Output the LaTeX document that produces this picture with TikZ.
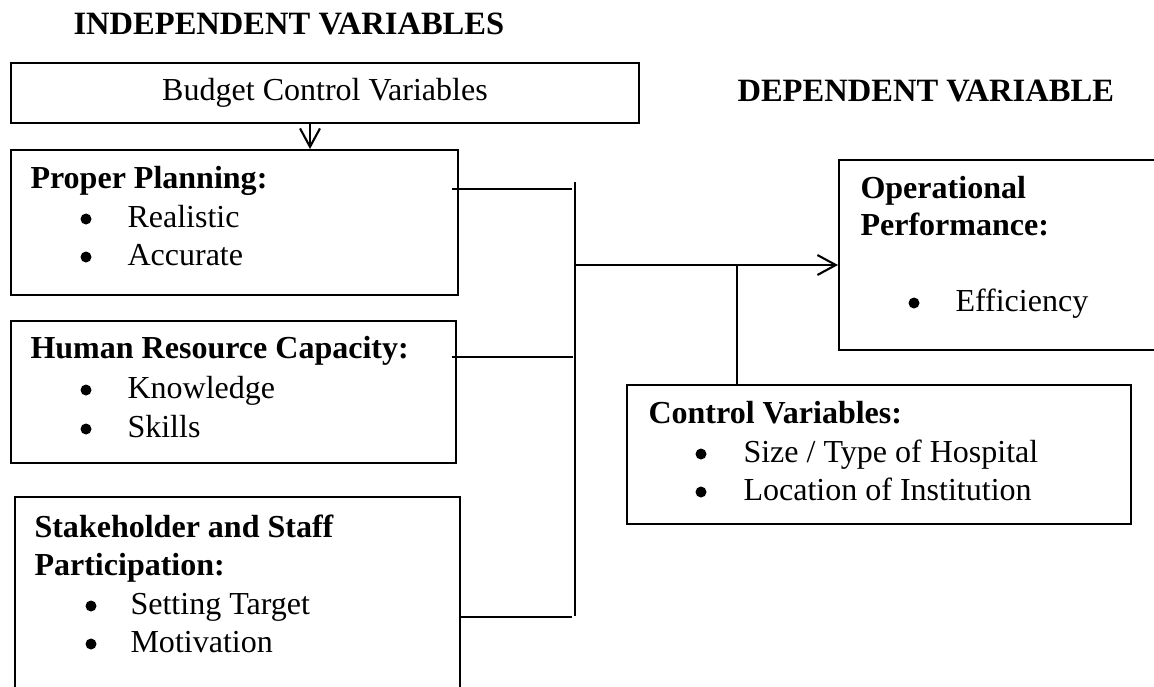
\documentclass[tikz,border=0pt]{standalone}
\usepackage{fontspec}
\setmainfont{Liberation Serif}
\usetikzlibrary{arrows.meta}

\newcommand{\pxu}{0.381pt}

\tikzset{
  box/.style={draw, line width=0.75pt, anchor=north west, inner sep=0pt},
  txt/.style={anchor=base west, inner sep=0pt, font=\fontsize{12.2}{14}\selectfont},
  head/.style={txt, font=\fontsize{12.2}{14}\selectfont\bfseries},
  blt/.style={circle, fill, inner sep=0pt, minimum size=11*\pxu},
  wire/.style={line width=0.45pt},
  arr/.style={line width=0.8pt, -{Straight Barb[length=7pt,width=7.6pt]}},
}

\begin{document}
\begin{tikzpicture}[x=\pxu, y=-\pxu]
  \useasboundingbox (0,0) rectangle (1154,686);

  % Headings
  \node[head, font=\fontsize{12.4}{14}\selectfont\bfseries] (indep) at (73,34) {INDEPENDENT VARIABLES};
  \node[head, font=\fontsize{12.4}{14}\selectfont\bfseries] (dep) at (737,101) {DEPENDENT VARIABLE};

  % Boxes on the left
  \node[box, minimum width=628*\pxu, minimum height=60*\pxu, font=\fontsize{12.2}{14}\selectfont] (bcv) at (10,62) {Budget Control Variables};
  \node[box, minimum width=447*\pxu, minimum height=145*\pxu] (pp) at (10,149) {};
  \node[box, minimum width=445*\pxu, minimum height=142*\pxu] (hr) at (10,320) {};
  \node[box, minimum width=445*\pxu, minimum height=220*\pxu] (ss) at (14,496) {};

  % Boxes on the right
  \node[box, minimum width=340*\pxu, minimum height=190*\pxu] (op) at (838,159) {};
  \node[box, minimum width=504*\pxu, minimum height=139*\pxu] (cv) at (626,384) {};

  % Texts in the boxes
  \node[head] (pp-title) at (30,188) {Proper Planning:};
  \foreach \t/\y [count=\i] in {Realistic/227, Accurate/265} {
    \node[blt] (pp-b\i) at (86,\y-8) {};
    \node[txt] (pp-t\i) at (127,\y) {\t};
  }
  \node[head] (hr-title) at (30,358) {Human Resource Capacity:};
  \foreach \t/\y [count=\i] in {Knowledge/398, Skills/437} {
    \node[blt] (hr-b\i) at (86,\y-8) {};
    \node[txt] (hr-t\i) at (127,\y) {\t};
  }
  \node[head] (ss-title1) at (34,537) {Stakeholder and Staff};
  \node[head] (ss-title2) at (34,575) {Participation:};
  \foreach \t/\y [count=\i] in {Setting Target/614, Motivation/652} {
    \node[blt] (ss-b\i) at (91,\y-8) {};
    \node[txt] (ss-t\i) at (130,\y) {\t};
  }
  \node[head] (op-title1) at (860,198) {Operational};
  \node[head] (op-title2) at (860,235) {Performance:};
  \node[blt] (op-b1) at (914,303) {};
  \node[txt] (op-t1) at (955,311) {Efficiency};
  \node[head] (cv-title) at (648,423) {Control Variables:};
  \foreach \t/\y [count=\i] in {{Size / Type of Hospital}/462, {Location of Institution}/500} {
    \node[blt] (cv-b\i) at (701,\y-8) {};
    \node[txt] (cv-t\i) at (743,\y) {\t};
  }

  % Connectors
  \coordinate (drop) at (310,135);
  \draw[arr] (drop |- bcv.south) -- (drop |- pp.north);

  \coordinate (pp-out) at (452,189);
  \coordinate (hr-out) at (452,357);
  \coordinate (ss-out) at (459,617);
  \coordinate (bus-top) at (575,182);
  \coordinate (bus-bot) at (575,616);
  \coordinate (bus-mid) at (575,265);
  \coordinate (cv-in) at (737,265);

  \draw[wire] (pp-out) -- (pp-out -| 572,0);
  \draw[wire] (hr-out) -- (hr-out -| 573,0);
  \draw[wire] (ss-out) -- (ss-out -| 572,0);
  \draw[line width=0.6pt] (bus-top) -- (bus-bot);
  \draw[arr] (bus-mid) -- (bus-mid -| op.west);
  \draw[wire] (cv-in) -- (cv-in |- cv.north);
\end{tikzpicture}
\end{document}
